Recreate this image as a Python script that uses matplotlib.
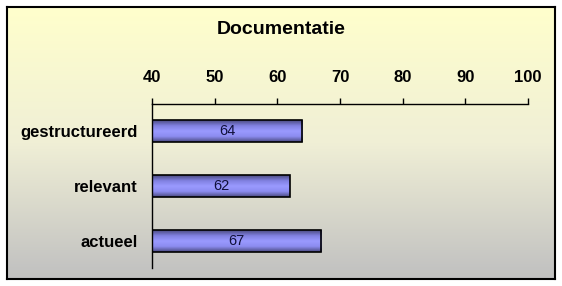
import numpy as np
import matplotlib.pyplot as plt
from matplotlib.colors import LinearSegmentedColormap

categories = ['gestructureerd', 'relevant', 'actueel']
scores = [64, 62, 67]
ticks = [40, 50, 60, 70, 80, 90, 100]
title = 'Documentatie'

plt.rcParams['font.family'] = ['Liberation Sans', 'DejaVu Sans']

fig = plt.figure(figsize=(5.62, 2.86), dpi=100)

# chart area background: yellow fading into grey, with black frame
bg = fig.add_axes([7/562, 1 - 279/286, 548/562, 272/286])
grad = np.linspace(0, 1, 256).reshape(-1, 1)
bg_cmap = LinearSegmentedColormap.from_list('bg', ['#ffffcc', '#f0efd6', '#c0c0c0'])
bg.imshow(grad, cmap=bg_cmap, aspect='auto', extent=[0, 1, 0, 1])
bg.set_xticks([])
bg.set_yticks([])
for s in bg.spines.values():
    s.set_linewidth(1.5)
    s.set_color('black')

fig.text(281/562, 1 - 30/286, title, ha='center', va='center',
         fontsize=14, fontweight='bold')

ax = fig.add_axes([152/562, 18/286, 376/562, 164/286])
ax.patch.set_alpha(0)

bar_cmap = LinearSegmentedColormap.from_list(
    'bar', ['#4a4a80', '#8080e0', '#9a9aff', '#8c8cf0', '#4a4a80'])
ypos = np.arange(len(categories))
h = 0.4
ax.barh(ypos, [v - 40 for v in scores], left=40, height=h,
        color='none', edgecolor='black', linewidth=1.2, zorder=3)
shade = np.linspace(0, 1, 64).reshape(-1, 1)
for y, v in zip(ypos, scores):
    ax.imshow(shade, cmap=bar_cmap, aspect='auto', zorder=2,
              extent=[40, v, y + h/2, y - h/2])
    ax.text((40 + v) / 2, y, str(v), ha='center', va='center',
            fontsize=10.5, color='#10103a', zorder=4)
ax.set_xlim(40, 100)
ax.set_ylim(2.5, -0.5)

ax.xaxis.tick_top()
ax.set_xticks(ticks)
ax.set_xticklabels([str(t) for t in ticks], fontsize=12, fontweight='bold')
ax.tick_params(axis='x', direction='out', length=4, width=1, pad=10)
ax.set_yticks(ypos)
ax.set_yticklabels(categories, fontsize=12, fontweight='bold')
ax.tick_params(axis='y', length=0, pad=10)
for side in ['right', 'bottom']:
    ax.spines[side].set_visible(False)
ax.spines['top'].set_linewidth(1)
ax.spines['left'].set_linewidth(1)

fig.savefig('out.png', dpi=100)
